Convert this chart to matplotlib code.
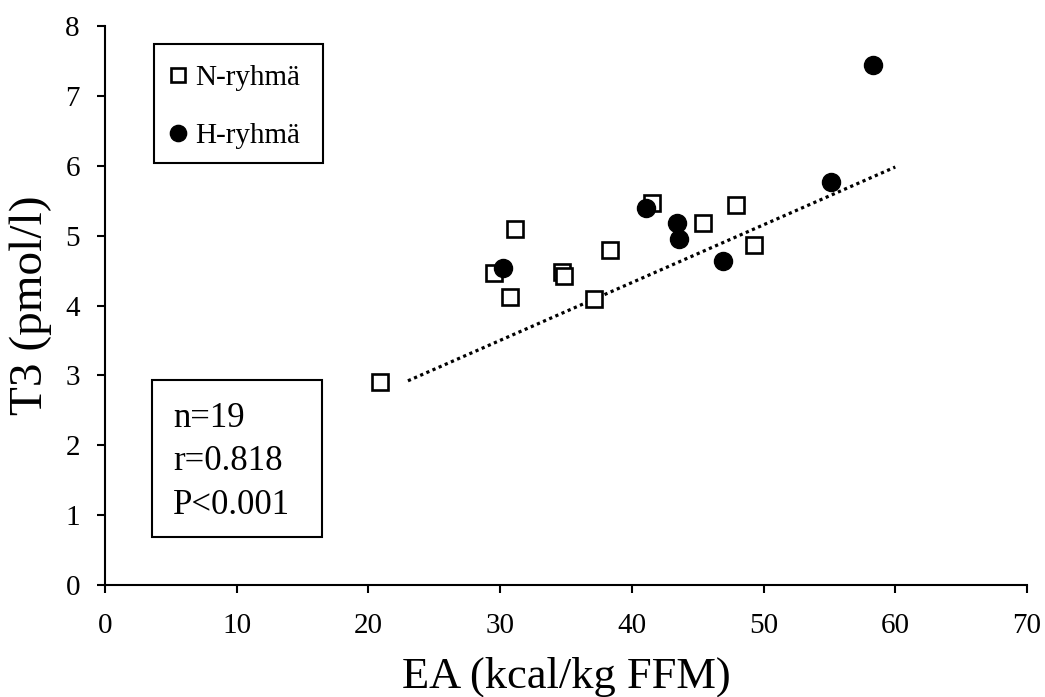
import numpy as np
import matplotlib.pyplot as plt
from matplotlib.patches import Rectangle

plt.rcParams['font.family'] = ['Liberation Serif', 'DejaVu Serif']

# N-ryhmä (squares)
n_ea = [20.9, 29.5, 30.75, 31.1, 34.7, 34.85, 37.1, 38.35, 41.5, 45.4, 47.9, 49.3]
n_t3 = [2.90, 4.46, 4.12, 5.10, 4.48, 4.42, 4.09, 4.80, 5.46, 5.18, 5.44, 4.86]
# H-ryhmä (filled circles)
h_ea = [30.2, 41.1, 43.4, 43.6, 46.95, 55.1, 58.3]
h_t3 = [4.54, 5.39, 5.18, 4.95, 4.63, 5.77, 7.44]

# trend line as drawn in the original
trend_range = [23, 60]
trend_slope = 0.0827
trend_icpt = 1.02
stats_lines = ["n=19", "r=0.818", "P<0.001"]

fig = plt.figure(figsize=(10.45, 6.97), dpi=100)
ax = fig.add_axes([105/1045, 1-585/697, (1027-105)/1045, (585-26)/697])

tx = np.array(trend_range)
ax.plot(tx, trend_slope*tx + trend_icpt, color='black', lw=2.3,
        linestyle=(0, (1, 1.1)), zorder=1)

ax.plot(n_ea, n_t3, 's', ms=11.5, mfc='white', mec='black', mew=1.9,
        linestyle='none', label='N-ryhmä', zorder=3)
ax.plot(h_ea, h_t3, 'o', ms=13, mfc='black', mec='black',
        linestyle='none', label='H-ryhmä', zorder=3)

ax.set_xlim(0, 70)
ax.set_ylim(0, 8)
ax.set_xticks(range(0, 71, 10))
ax.set_yticks(range(0, 9))
for s in ['top', 'right']:
    ax.spines[s].set_visible(False)
for s in ['left', 'bottom']:
    ax.spines[s].set_linewidth(1.5)
ax.tick_params(direction='out', length=6, width=1.5, labelsize=21)
ax.tick_params(axis='x', pad=14)
ax.tick_params(axis='y', pad=12)

ax.set_xlabel('EA (kcal/kg FFM)', fontsize=32, labelpad=13)
ax.set_ylabel('T3 (pmol/l)', fontsize=34)
ax.yaxis.set_label_coords(-0.058, 0.5)

# legend without its own frame; the box is drawn separately
ax.legend(loc='upper left', bbox_to_anchor=(169/1045, 1-65/697),
          bbox_transform=fig.transFigure, fontsize=21, frameon=False,
          handlelength=0.6, handletextpad=0.3, labelspacing=1.07,
          borderpad=0, borderaxespad=0, markerscale=0.9)
fig.add_artist(Rectangle((154/1045, 1-163/697), 169/1045, 119/697,
                         transform=fig.transFigure, fill=False,
                         edgecolor='black', lw=1.5))

fig.add_artist(Rectangle((152/1045, 1-537/697), 170/1045, 157/697,
                         transform=fig.transFigure, fill=False,
                         edgecolor='black', lw=1.5))
fig.text(173/1045, 1-402/697, "\n".join(stats_lines), fontsize=25,
         va='top', ha='left', linespacing=1.42)

fig.savefig('out.png', dpi=100)
